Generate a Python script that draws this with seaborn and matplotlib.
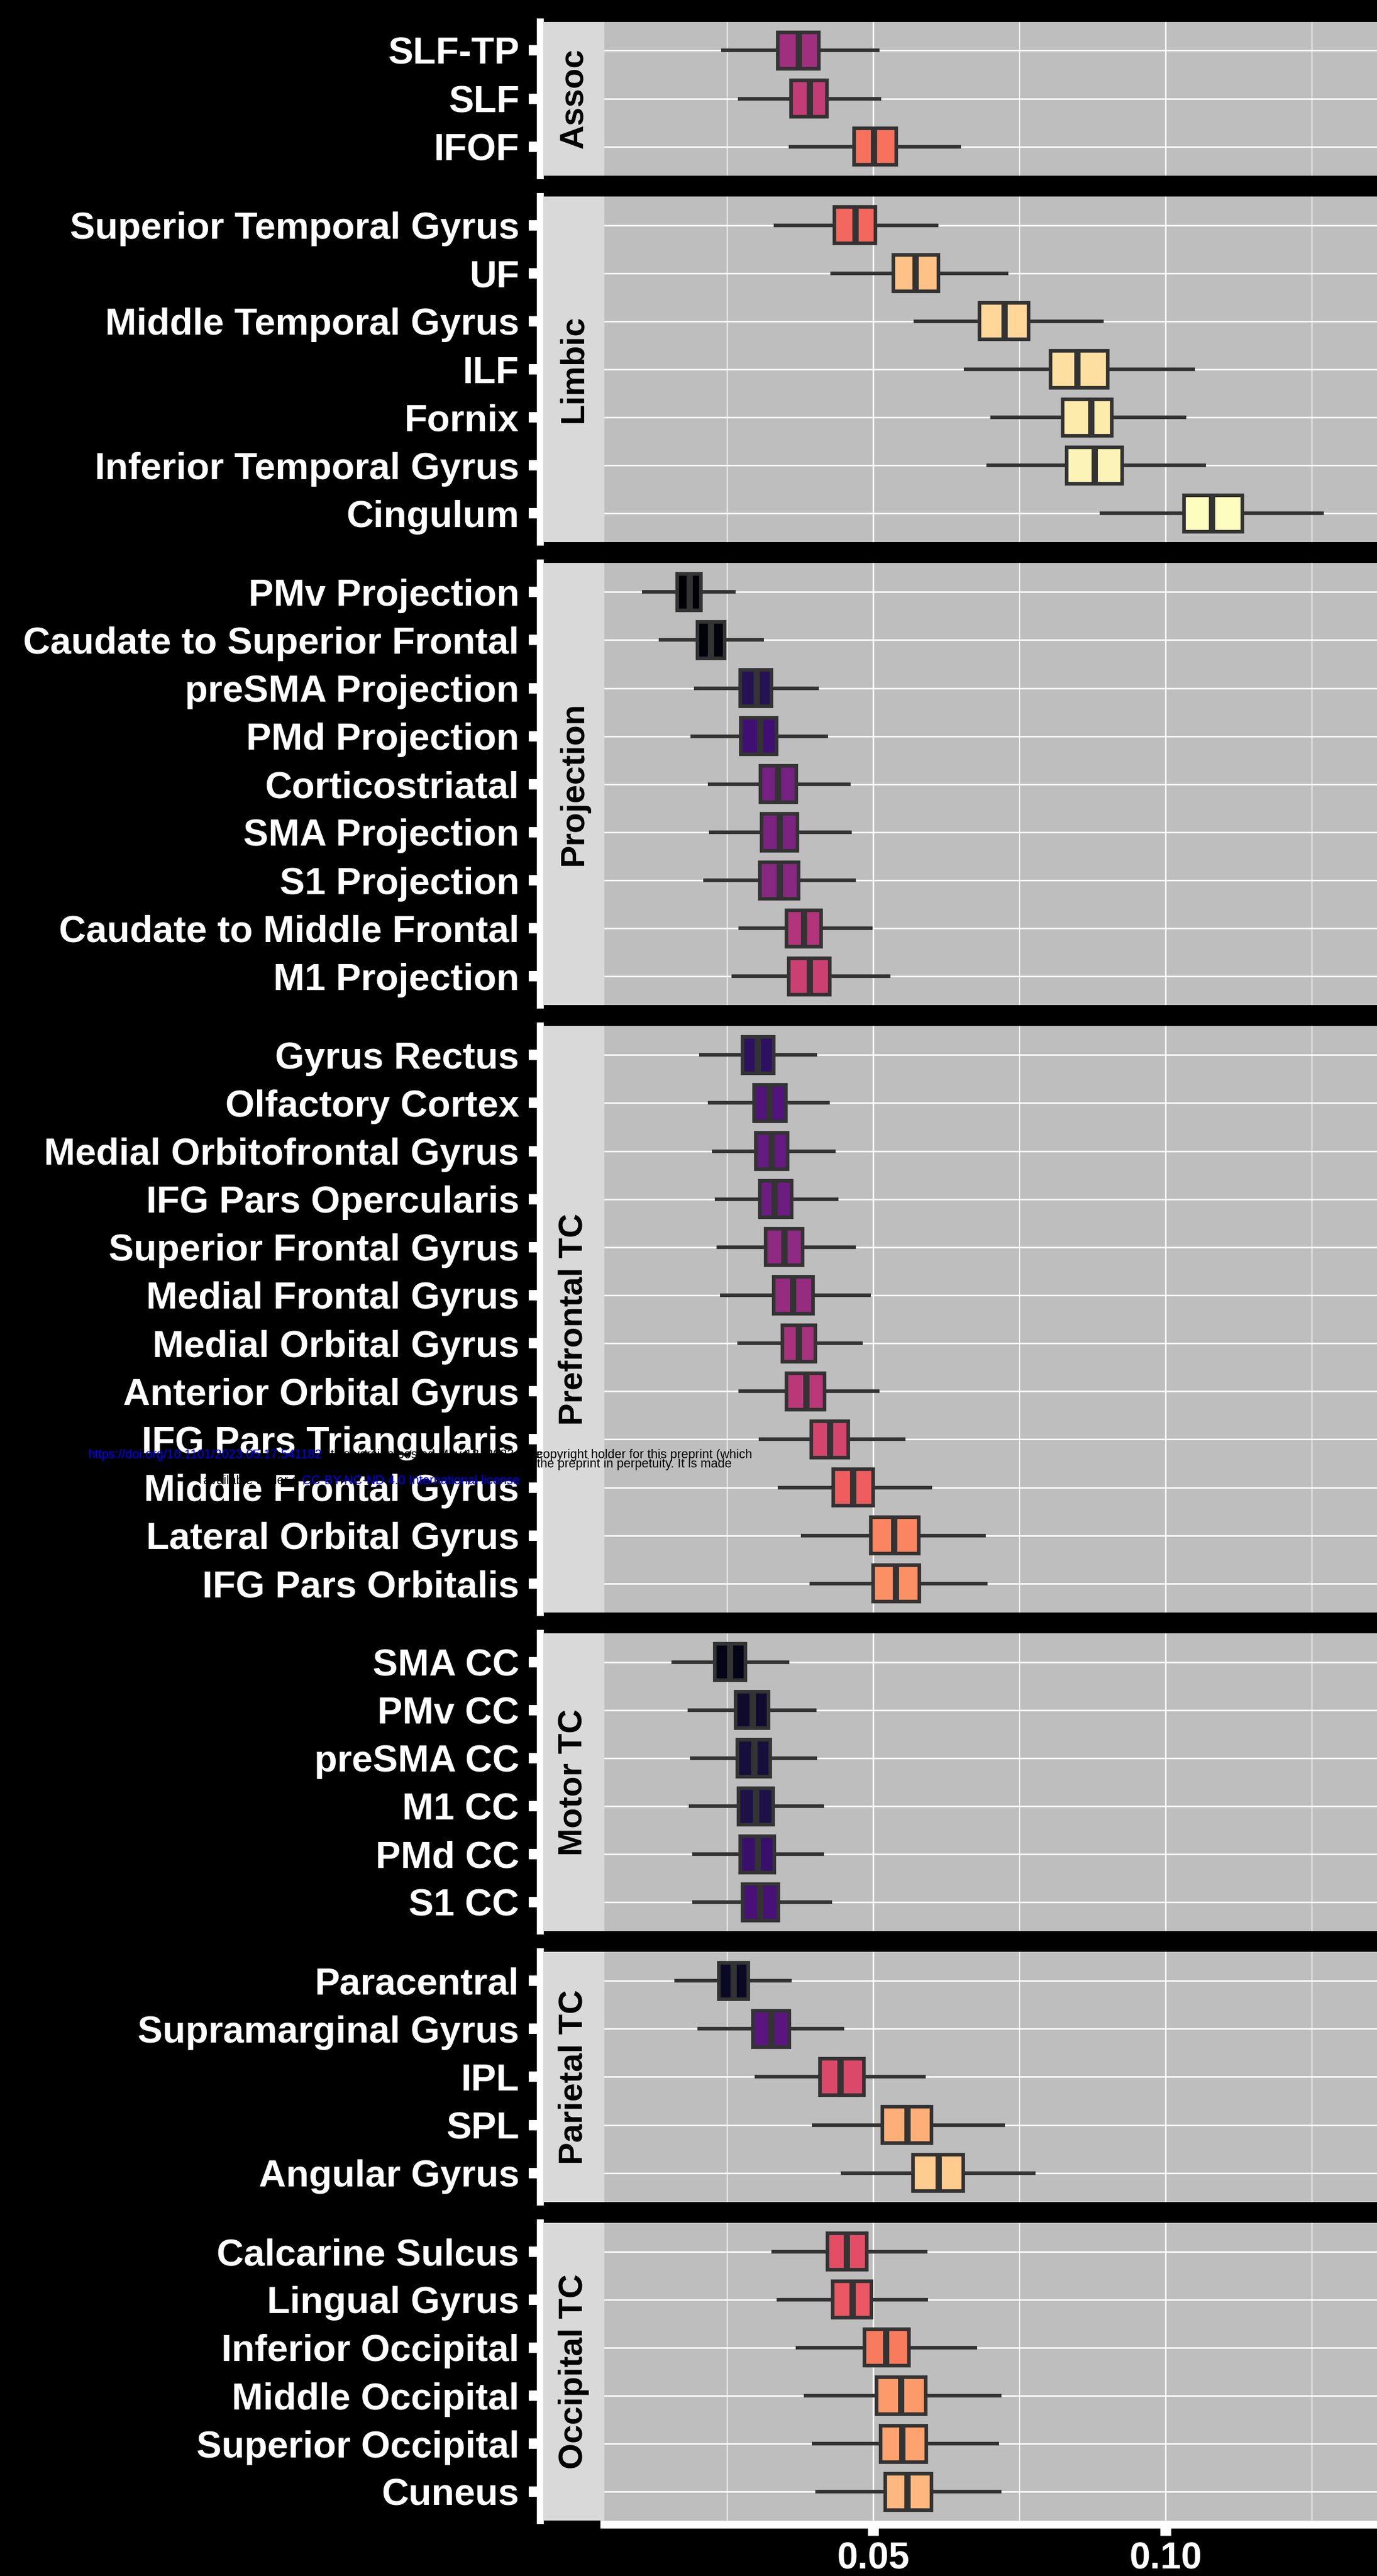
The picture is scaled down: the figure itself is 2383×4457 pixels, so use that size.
import numpy as np
import pandas as pd
import matplotlib
matplotlib.use("Agg")
import matplotlib.pyplot as plt
from matplotlib.ticker import FixedLocator
import seaborn as sns

# facets (top to bottom) and tracts within each facet, in display order
facets = ["Assoc", "Limbic", "Projection", "Prefrontal TC", "Motor TC", "Parietal TC", "Occipital TC"]

tracts = [
    "SLF-TP", "SLF", "IFOF",
    "Superior Temporal Gyrus", "UF", "Middle Temporal Gyrus", "ILF", "Fornix",
    "Inferior Temporal Gyrus", "Cingulum",
    "PMv Projection", "Caudate to Superior Frontal", "preSMA Projection", "PMd Projection",
    "Corticostriatal", "SMA Projection", "S1 Projection", "Caudate to Middle Frontal", "M1 Projection",
    "Gyrus Rectus", "Olfactory Cortex", "Medial Orbitofrontal Gyrus", "IFG Pars Opercularis",
    "Superior Frontal Gyrus", "Medial Frontal Gyrus", "Medial Orbital Gyrus", "Anterior Orbital Gyrus",
    "IFG Pars Triangularis", "Middle Frontal Gyrus", "Lateral Orbital Gyrus", "IFG Pars Orbitalis",
    "SMA CC", "PMv CC", "preSMA CC", "M1 CC", "PMd CC", "S1 CC",
    "Paracentral", "Supramarginal Gyrus", "IPL", "SPL", "Angular Gyrus",
    "Calcarine Sulcus", "Lingual Gyrus", "Inferior Occipital", "Middle Occipital",
    "Superior Occipital", "Cuneus",
]

tract_facet = (["Assoc"] * 3 + ["Limbic"] * 7 + ["Projection"] * 9 + ["Prefrontal TC"] * 12
               + ["Motor TC"] * 6 + ["Parietal TC"] * 5 + ["Occipital TC"] * 6)

# box statistics
whisk_lo = [0.0240, 0.0269, 0.0356,
            0.0330, 0.0427, 0.0569, 0.0655, 0.0701, 0.0694, 0.0887,
            0.0105, 0.0133, 0.0194, 0.0188, 0.0217, 0.0219, 0.0209, 0.0270, 0.0258,
            0.0203, 0.0217, 0.0224, 0.0229, 0.0232, 0.0238, 0.0268, 0.0270, 0.0304, 0.0337, 0.0376, 0.0391,
            0.0155, 0.0183, 0.0187, 0.0185, 0.0191, 0.0191,
            0.0160, 0.0200, 0.0297, 0.0395, 0.0445,
            0.0326, 0.0335, 0.0368, 0.0381, 0.0395, 0.0401]
q1 = [0.0337, 0.0360, 0.0467,
      0.0434, 0.0535, 0.0682, 0.0803, 0.0824, 0.0831, 0.1032,
      0.0165, 0.0200, 0.0273, 0.0274, 0.0307, 0.0309, 0.0306, 0.0352, 0.0356,
      0.0277, 0.0296, 0.0299, 0.0306, 0.0316, 0.0330, 0.0345, 0.0352, 0.0394, 0.0432, 0.0496, 0.0500,
      0.0229, 0.0265, 0.0268, 0.0270, 0.0273, 0.0277,
      0.0236, 0.0294, 0.0409, 0.0516, 0.0568,
      0.0422, 0.0431, 0.0485, 0.0506, 0.0513, 0.0521]
median = [0.0373, 0.0391, 0.0501,
          0.0469, 0.0572, 0.0724, 0.0849, 0.0873, 0.0878, 0.1079,
          0.0186, 0.0222, 0.0300, 0.0306, 0.0337, 0.0340, 0.0340, 0.0381, 0.0391,
          0.0302, 0.0322, 0.0326, 0.0331, 0.0348, 0.0363, 0.0373, 0.0385, 0.0426, 0.0465, 0.0536, 0.0539,
          0.0255, 0.0293, 0.0296, 0.0299, 0.0302, 0.0306,
          0.0261, 0.0325, 0.0444, 0.0558, 0.0612,
          0.0455, 0.0464, 0.0522, 0.0547, 0.0549, 0.0558]
q3 = [0.0407, 0.0421, 0.0540,
      0.0504, 0.0612, 0.0766, 0.0901, 0.0908, 0.0926, 0.1131,
      0.0206, 0.0246, 0.0326, 0.0335, 0.0369, 0.0371, 0.0373, 0.0411, 0.0426,
      0.0330, 0.0351, 0.0354, 0.0361, 0.0379, 0.0397, 0.0401, 0.0417, 0.0458, 0.0500, 0.0578, 0.0579,
      0.0282, 0.0321, 0.0324, 0.0329, 0.0331, 0.0338,
      0.0287, 0.0357, 0.0484, 0.0600, 0.0654,
      0.0489, 0.0497, 0.0561, 0.0590, 0.0591, 0.0600]
whisk_hi = [0.0511, 0.0514, 0.0650,
            0.0612, 0.0731, 0.0894, 0.1050, 0.1036, 0.1069, 0.1271,
            0.0265, 0.0313, 0.0407, 0.0423, 0.0461, 0.0463, 0.0470, 0.0499, 0.0530,
            0.0404, 0.0426, 0.0436, 0.0441, 0.0470, 0.0496, 0.0482, 0.0511, 0.0555, 0.0601, 0.0693, 0.0696,
            0.0357, 0.0403, 0.0404, 0.0416, 0.0416, 0.0430,
            0.0361, 0.0451, 0.0590, 0.0725, 0.0778,
            0.0593, 0.0594, 0.0678, 0.0719, 0.0715, 0.0719]

x_breaks = [0.05, 0.10]
x_labels = ["0.05", "0.10"]

# long table: five values per tract reproduce the box statistics exactly
rows = []
for i, name in enumerate(tracts):
    for v in (whisk_lo[i], q1[i], median[i], q3[i], whisk_hi[i]):
        rows.append({"tract": name, "facet": tract_facet[i], "value": v})
df = pd.DataFrame(rows)

# discrete magma fill, tracts ordered by median
rank = np.argsort(np.argsort(median, kind="stable"), kind="stable")
cmap = plt.get_cmap("magma")
palette = {name: cmap(rank[i] / (len(tracts) - 1)) for i, name in enumerate(tracts)}

plt.rcParams["font.family"] = ["Liberation Sans", "DejaVu Sans"]
plt.rcParams["font.weight"] = "bold"

W, H = 2383, 4457
fig = plt.figure(figsize=(W / 300, H / 300), dpi=300, facecolor="black")

unit = 83.15
y_top = 37.6
gap = 36
panel_left = 1046
strip_left = 940

for k, facet in enumerate(facets):
    names = [t for t, f in zip(tracts, tract_facet) if f == facet]
    n = len(names)
    h = (n + 0.2) * unit
    bottom = H - (y_top + h)
    ax = fig.add_axes([panel_left / W, bottom / H, (W - panel_left) / W, h / H])
    sax = fig.add_axes([strip_left / W, bottom / H, (panel_left - strip_left) / W, h / H])
    y_top += h + gap

    sub = df[df["facet"] == facet]
    sns.boxplot(data=sub, x="value", y="tract", hue="tract", order=names, hue_order=names,
                palette=palette, orient="h", whis=(0, 100), showcaps=False, width=0.76,
                linewidth=1.5, linecolor="#333333", saturation=1, fliersize=0,
                medianprops={"linewidth": 2.6}, legend=False, ax=ax)

    ax.set_facecolor("#BEBEBE")
    ax.set_xlim(0.00405, 0.13617)
    ax.set_ylim(n - 0.4, -0.6)
    ax.set_xlabel("")
    ax.set_ylabel("")
    ax.set_axisbelow(True)
    ax.xaxis.set_major_locator(FixedLocator(x_breaks))
    ax.xaxis.set_minor_locator(FixedLocator([0.025, 0.075, 0.125]))
    ax.grid(True, which="major", axis="both", color="white", linewidth=0.6)
    ax.grid(True, which="minor", axis="x", color="white", linewidth=0.35)
    ax.tick_params(which="minor", length=0)

    for side in ("top", "right"):
        ax.spines[side].set_visible(False)
    ax.spines["left"].set_position(("outward", 26.6))
    ax.spines["left"].set_color("white")
    ax.spines["left"].set_linewidth(2.9)
    ax.tick_params(axis="y", colors="white", labelsize=15.6, length=4.8, width=4.3, pad=4)

    if k == len(facets) - 1:
        ax.spines["bottom"].set_position(("outward", 1.7))
        ax.spines["bottom"].set_color("white")
        ax.spines["bottom"].set_linewidth(3.3)
        ax.set_xticklabels(x_labels)
        ax.tick_params(axis="x", colors="white", labelsize=15.5, length=4.6, width=4.5, pad=2.5)
    else:
        ax.spines["bottom"].set_visible(False)
        ax.tick_params(axis="x", length=0, labelbottom=False)

    # facet strip on the left
    sax.set_facecolor("#D9D9D9")
    sax.set_xticks([])
    sax.set_yticks([])
    for s in sax.spines.values():
        s.set_visible(False)
    sax.text(0.5, 0.5, facet, rotation=90, ha="center", va="center", fontsize=13.9,
             fontweight="bold", color="black", transform=sax.transAxes)

# stray preprint stamp that overlaps the figure
stamp = dict(fontsize=5.2, fontweight="normal", va="center", family=["Liberation Sans", "DejaVu Sans"])
fig.text(153 / W, 1 - 2518 / H, "https://doi.org/10.1101/2023.05.17.541182", ha="left", color="blue", **stamp)
fig.text(560 / W, 1 - 2518 / H, "; this version posted May 18, 2023. The", ha="left", color="black", **stamp)
fig.text(929 / W, 1 - 2518 / H, "copyright holder for this preprint (which", ha="left", color="black", **stamp)
fig.text(929 / W, 1 - 2534 / H, "the preprint in perpetuity. It is made", ha="left", color="black", **stamp)
fig.text(523 / W, 1 - 2562 / H, "available under a ", ha="right", color="black", **stamp)
fig.text(523 / W, 1 - 2562 / H, "CC-BY-NC-ND 4.0 International license", ha="left", color="blue", **stamp)

fig.savefig("out.png", dpi=300, facecolor="black")
